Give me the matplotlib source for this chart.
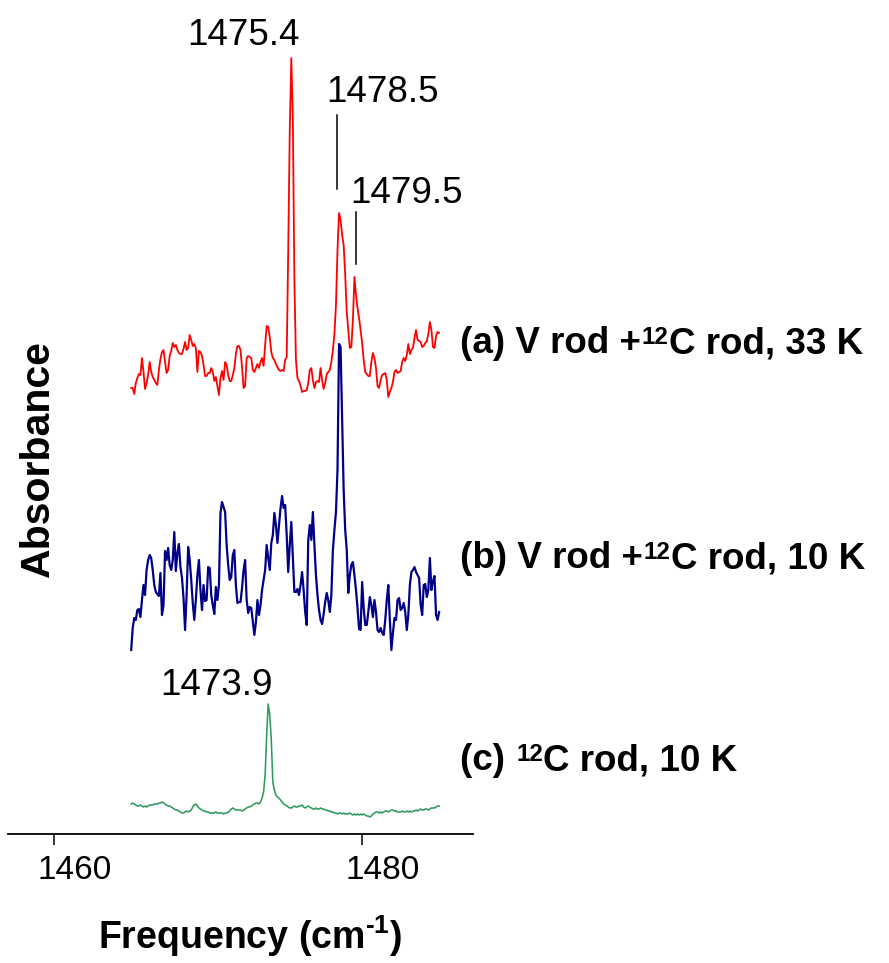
import numpy as np
import matplotlib
matplotlib.use("Agg")
import matplotlib.pyplot as plt
from matplotlib.transforms import ScaledTranslation

plt.rcParams["font.family"] = ["Liberation Sans", "DejaVu Sans"]
plt.rcParams["mathtext.fontset"] = "custom"
plt.rcParams["mathtext.rm"] = "Liberation Sans:bold"
plt.rcParams["mathtext.bf"] = "Liberation Sans:bold"
plt.rcParams["mathtext.default"] = "rm"

# Frequency grid of the spectra (cm-1), 0.1 cm-1 step
freq = np.linspace(1465.0, 1485.0, 201)

# (a) V rod + 12C rod, 33 K  (absorbance, arbitrary units)
spec_a = [
    12, 12, 6, 17, 22, 26, 25, 42, 28, 11,
    17, 25, 38, 28, 23, 20, 17, 15, 30, 41,
    48, 50, 38, 27, 30, 44, 49, 57, 53, 55,
    50, 47, 46, 46, 51, 58, 50, 52, 65, 60,
    54, 56, 52, 28, 49, 48, 44, 35, 24, 24,
    27, 27, 32, 28, 19, 23, 14, 5, 22, 29,
    20, 38, 35, 25, 19, 19, 25, 32, 46, 54,
    54, 50, 33, 12, 14, 42, 44, 43, 42, 30,
    28, 32, 36, 32, 38, 42, 34, 55, 74, 73,
    63, 48, 42, 40, 36, 33, 30, 29, 30, 29,
    40, 43, 150, 270, 342, 280, 120, 40, 22, 19,
    14, 8, 9, 9, 10, 17, 30, 32, 20, 12,
    18, 19, 18, 32, 20, 11, 17, 26, 28, 30,
    38, 50, 66, 95, 150, 187, 180, 165, 155, 125,
    88, 70, 52, 53, 80, 123, 105, 92, 82, 70,
    57, 40, 28, 26, 24, 24, 38, 47, 42, 32,
    14, 12, 20, 25, 26, 27, 20, 3, 8, 12,
    18, 28, 30, 27, 28, 29, 38, 42, 39, 45,
    56, 46, 50, 52, 62, 70, 60, 59, 58, 53,
    54, 57, 59, 66, 78, 70, 53, 52, 64, 68,
    67,
]

# (b) V rod + 12C rod, 10 K
spec_b = [
    10, 32, 42, 40, 50, 51, 43, 60, 75, 65,
    90, 100, 105, 102, 90, 75, 68, 66, 64, 87,
    45, 55, 109, 100, 112, 95, 90, 100, 128, 89,
    107, 116, 93, 82, 62, 30, 65, 113, 100, 80,
    57, 40, 60, 85, 100, 70, 50, 75, 59, 60,
    93, 92, 65, 55, 46, 73, 60, 75, 147, 158,
    153, 148, 115, 95, 80, 83, 105, 110, 75, 57,
    58, 58, 72, 90, 100, 60, 47, 53, 52, 38,
    25, 38, 60, 45, 55, 70, 80, 90, 115, 102,
    90, 117, 125, 147, 135, 117, 135, 152, 164, 152,
    155, 125, 88, 115, 138, 103, 68, 68, 71, 65,
    75, 88, 70, 48, 35, 120, 135, 120, 148, 115,
    85, 65, 50, 40, 36, 46, 58, 67, 60, 48,
    65, 110, 130, 148, 190, 316, 313, 240, 170, 130,
    110, 67, 85, 95, 98, 85, 70, 52, 31, 30,
    78, 52, 35, 35, 48, 63, 55, 43, 60, 48,
    30, 28, 32, 27, 25, 40, 60, 75, 40, 10,
    27, 42, 40, 60, 62, 50, 52, 57, 48, 30,
    45, 75, 88, 90, 93, 88, 85, 82, 55, 45,
    75, 76, 63, 70, 102, 70, 79, 84, 45, 40,
    48,
]

# (c) 12C rod, 10 K
spec_c = [
    16, 17, 16, 15, 14, 14, 15, 14, 13, 14,
    13, 14, 15, 15, 15, 16, 16, 16, 17, 17,
    18, 17, 16, 15, 14, 14, 13, 12, 11, 10,
    10, 9, 8, 7, 7, 8, 9, 8, 9, 10,
    13, 15, 16, 14, 12, 11, 10, 9, 9, 8,
    8, 7, 7, 7, 7, 8, 7, 7, 7, 7,
    6, 7, 7, 8, 9, 11, 12, 11, 10, 10,
    10, 10, 9, 10, 11, 12, 13, 13, 14, 15,
    16, 17, 17, 16, 18, 22, 28, 45, 85, 116,
    105, 80, 38, 30, 25, 23, 22, 20, 18, 16,
    15, 14, 13, 12, 12, 13, 14, 13, 13, 14,
    14, 15, 13, 12, 13, 14, 13, 12, 11, 11,
    12, 11, 11, 12, 11, 11, 10, 10, 9, 9,
    8, 8, 7, 7, 6, 7, 7, 6, 7, 6,
    6, 6, 7, 6, 5, 6, 5, 6, 5, 6,
    5, 6, 5, 4, 4, 3, 4, 6, 7, 8,
    8, 7, 8, 7, 8, 9, 9, 8, 9, 10,
    10, 9, 9, 8, 8, 8, 9, 8, 8, 9,
    8, 9, 8, 9, 9, 10, 9, 10, 11, 10,
    10, 11, 11, 10, 11, 12, 12, 12, 13, 14,
    14,
]

# Trace labels: (text before isotope mass, mass number, text after)
trace_labels = [
    ("(a) V rod +", "12", "C rod, 33 K"),
    ("(b) V rod +", "12", "C rod, 10 K"),
    ("(c) ", "12", "C rod, 10 K"),
]
trace_colors = ["#ff0000", "#000088", "#2e9a5e"]
trace_widths = [1.3, 1.6, 1.15]
trace_offsets = [434, 174, 14]

peak_freqs = {"a": [1475.4, 1478.5, 1479.5], "c": [1473.9]}

fig = plt.figure(figsize=(8.89, 9.63), dpi=100)
ax = fig.add_axes([8 / 889, 129 / 963, 465 / 889, 834 / 963])

for spec, color, lw, off in zip([spec_a, spec_b, spec_c], trace_colors,
                                trace_widths, trace_offsets):
    ax.plot(freq, off + np.asarray(spec, dtype=float), color=color, lw=lw,
            solid_joinstyle="round")

ax.set_xlim(1457.0, 1487.2)
ax.set_ylim(0, 834)
ax.set_xticks([1460, 1480])
ax.tick_params(axis="x", direction="out", length=8, width=1.1, pad=7,
               labelsize=24)
# tick labels sit slightly to the right of their ticks
shift = ScaledTranslation(20 / 100, 0, fig.dpi_scale_trans)
for lab in ax.get_xticklabels():
    lab.set_transform(lab.get_transform() + shift)
ax.set_yticks([])
for side in ("left", "right", "top"):
    ax.spines[side].set_visible(False)
ax.spines["bottom"].set_linewidth(1.3)

# Peak positions
ax.text(1472.3, 789, f"{peak_freqs['a'][0]:.1f}", fontsize=26.5,
        ha="center", va="baseline")
ax.text(1481.3, 732, f"{peak_freqs['a'][1]:.1f}", fontsize=26.5,
        ha="center", va="baseline")
ax.text(1482.9, 631, f"{peak_freqs['a'][2]:.1f}", fontsize=26.5,
        ha="center", va="baseline", clip_on=False)
ax.text(1470.55, 139, f"{peak_freqs['c'][0]:.1f}", fontsize=26.5,
        ha="center", va="baseline")
ax.plot([1478.38, 1478.38], [645, 719], color="black", lw=1.1)
ax.plot([1479.61, 1479.61], [570, 622], color="black", lw=1.1)

# Trace labels to the right of the spectra, with a raised mass number
main_size, sup_size = 26.5, 17.5
for (pre, mass, post), y in zip(trace_labels, [481, 266, 64]):
    t1 = ax.text(1486.36, y, pre, fontsize=main_size, fontweight="bold",
                 ha="left", va="baseline", clip_on=False)
    t2 = ax.annotate(mass, xy=(1, 0), xycoords=t1, xytext=(0.5, 12.5),
                     textcoords="offset points", fontsize=sup_size,
                     fontweight="bold", ha="left", va="baseline",
                     annotation_clip=False)
    ax.annotate(post, xy=(1, 0), xycoords=(t2, t1), xytext=(0.3, 0),
                textcoords="offset points", fontsize=main_size,
                fontweight="bold", ha="left", va="bottom",
                annotation_clip=False)

fig.text(250 / 889, 1 - 949 / 963, r"Frequency (cm$^{\text{-1}}$)",
         fontsize=27, fontweight="bold", ha="center", va="baseline")
fig.text(38 / 889, 1 - 459 / 963, "Absorbance", fontsize=29.5,
         fontweight="bold", rotation=90, ha="center", va="center")

fig.savefig("out.png", dpi=100)
